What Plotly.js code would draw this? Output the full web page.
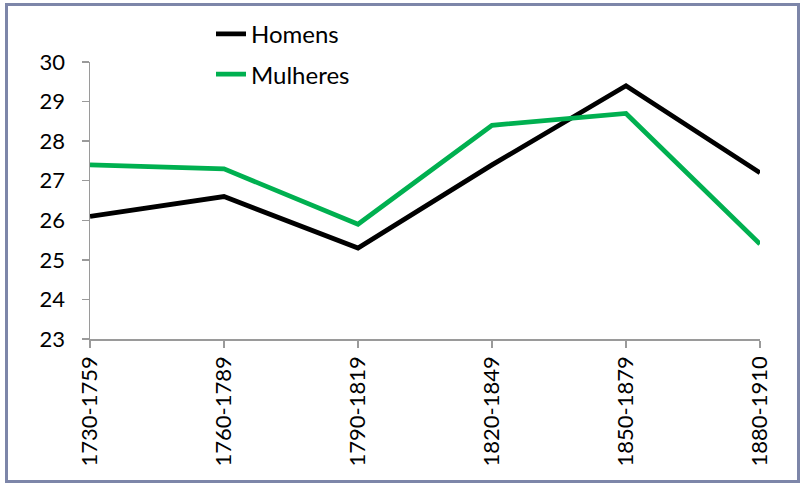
<!DOCTYPE html>
<html>
<head>
<meta charset="utf-8">
<script src="https://cdn.plot.ly/plotly-3.0.1.min.js"></script>
<style>
  html, body { margin: 0; padding: 0; background: #fff; }
  #wrap { position: relative; width: 800px; height: 483px; }
  #chart { position: absolute; left: 0; top: 0; width: 800px; height: 483px; }
  #frame { position: absolute; left: 5px; top: 3px; width: 789px; height: 474px;
           border: 3px solid #7d86a9; pointer-events: none; }
</style>
</head>
<body>
<div id="wrap">
  <div id="chart"></div>
  <div id="frame"></div>
</div>
<script>
const periods = ["1730-1759", "1760-1789", "1790-1819", "1820-1849", "1850-1879", "1880-1910"];
const homens = [26.1, 26.6, 25.3, 27.4, 29.4, 27.2];
const mulheres = [27.4, 27.3, 25.9, 28.4, 28.7, 25.4];
const yTicks = [23, 24, 25, 26, 27, 28, 29, 30];

const FONT = "Lato, 'Open Sans', sans-serif";

const traces = [
  { x: periods, y: homens, name: "Homens", type: "scatter", mode: "lines",
    legendgroup: "h", line: { color: "#000000", width: 4.8 } },
  { x: periods, y: mulheres, name: "Mulheres", type: "scatter", mode: "lines",
    legendgroup: "m", line: { color: "#00b050", width: 4.8 } }
];

const layout = {
  width: 800, height: 483,
  margin: { l: 90, r: 40, t: 62, b: 144, autoexpand: false },
  paper_bgcolor: "#ffffff", plot_bgcolor: "#ffffff",
  font: { family: FONT, size: 22, color: "#000000" },
  showlegend: true,
  legend: {
    x: 0.1806, y: 1.181, xanchor: "left", yanchor: "top",
    font: { family: FONT, size: 24, color: "#000" },
    traceorder: "grouped", tracegroupgap: 6,
    bgcolor: "rgba(0,0,0,0)"
  },
  xaxis: {
    type: "category", range: [0, 5],
    showgrid: false, zeroline: false,
    showline: true, linecolor: "#9a9a9a", linewidth: 1.5,
    ticks: "outside", ticklen: 7, tickwidth: 1.5, tickcolor: "#9a9a9a",
    tickangle: -90, tickfont: { family: FONT, size: 22, color: "#000" },
    automargin: false
  },
  yaxis: {
    range: [23, 30], tickvals: yTicks, ticktext: yTicks.map(String),
    showgrid: false, zeroline: false,
    showline: true, linecolor: "#9a9a9a", linewidth: 1.5,
    ticks: "outside", ticklen: 7, tickwidth: 1.5, tickcolor: "#9a9a9a",
    tickfont: { family: FONT, size: 22, color: "#000" },
    ticklabelstandoff: 12,
    automargin: false
  }
};

Plotly.newPlot("chart", traces, layout, { displayModeBar: false, staticPlot: true });
</script>
</body>
</html>
